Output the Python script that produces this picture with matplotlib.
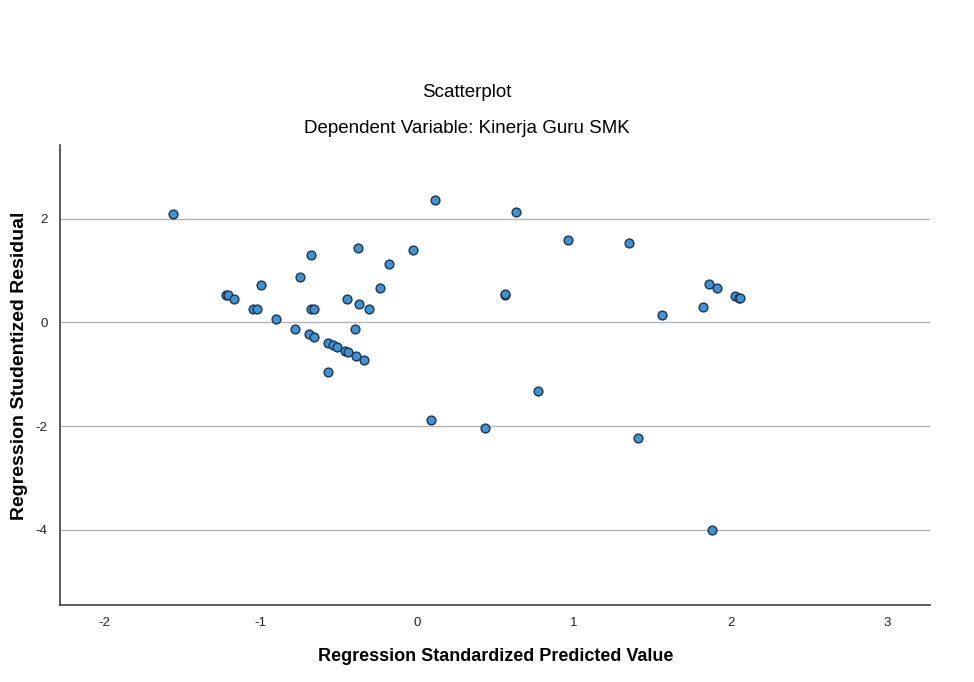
import numpy as np
import matplotlib
matplotlib.use('Agg')
import matplotlib.pyplot as plt

plt.rcParams['font.family'] = ['Liberation Sans', 'DejaVu Sans']
plt.rcParams['axes.unicode_minus'] = False

# standardized predicted value (x) and studentized residual (y)
pred = [-1.56, -1.22, -1.21, -1.17, -1.00, -1.05, -1.02, -0.90, -0.75, -0.68,
        -0.78, -0.69, -0.66, -0.68, -0.66, -0.57, -0.54, -0.51, -0.46, -0.44,
        -0.39, -0.34, -0.57, -0.45, -0.40, -0.37, -0.31, -0.24, -0.18, -0.38,
        -0.03, 0.11, 0.63, 0.96, 1.35, 0.56, 0.56, 1.56, 0.77, 0.09,
        0.43, 1.41, 1.82, 1.86, 1.91, 2.03, 2.05, 2.06, 1.88]
resid = [2.10, 0.54, 0.53, 0.46, 0.73, 0.27, 0.26, 0.06, 0.88, 1.31,
         -0.12, -0.23, -0.28, 0.26, 0.26, -0.40, -0.44, -0.48, -0.55, -0.57,
         -0.65, -0.72, -0.96, 0.45, -0.13, 0.35, 0.26, 0.66, 1.12, 1.43,
         1.39, 2.36, 2.13, 1.59, 1.53, 0.54, 0.55, 0.14, -1.32, -1.88,
         -2.03, -2.22, 0.29, 0.75, 0.67, 0.52, 0.47, 0.48, -4.00]

x_ticks = [-2, -1, 0, 1, 2, 3]
y_ticks = [2, 0, -2, -4]

fig = plt.figure(figsize=(9.74, 6.82), dpi=100)
ax = fig.add_axes([0.0616, 0.113, 0.893, 0.674])

ax.scatter(pred, resid, s=40, c='#3d93d3', edgecolors='#1c3550', linewidths=1.0, zorder=3)

ax.set_xlim(-2.28, 3.27)
ax.set_ylim(-5.45, 3.42)
ax.set_xticks(x_ticks)
ax.set_yticks(y_ticks)
ax.tick_params(length=0, labelsize=9.5, colors='#222222')
ax.tick_params(axis='x', pad=9)
ax.tick_params(axis='y', pad=9)
ax.yaxis.grid(True, color='#b4b4b4', linewidth=1.0)
ax.set_axisbelow(True)
for side in ['top', 'right']:
    ax.spines[side].set_visible(False)
for side in ['left', 'bottom']:
    ax.spines[side].set_color('#404040')
    ax.spines[side].set_linewidth(1.2)

ax.set_xlabel('Regression Standardized Predicted Value', fontsize=13, fontweight='bold')
ax.set_ylabel('Regression Studentized Residual', fontsize=14, fontweight='bold')
ax.xaxis.set_label_coords(0.501, -0.093)
ax.yaxis.set_label_coords(-0.037, 0.52)

fig.text(0.479, 0.864, 'Scatterplot', ha='center', va='center', fontsize=13.5)
fig.text(0.479, 0.812, 'Dependent Variable: Kinerja Guru SMK', ha='center', va='center', fontsize=13.5)

fig.savefig('out.png', dpi=100)
